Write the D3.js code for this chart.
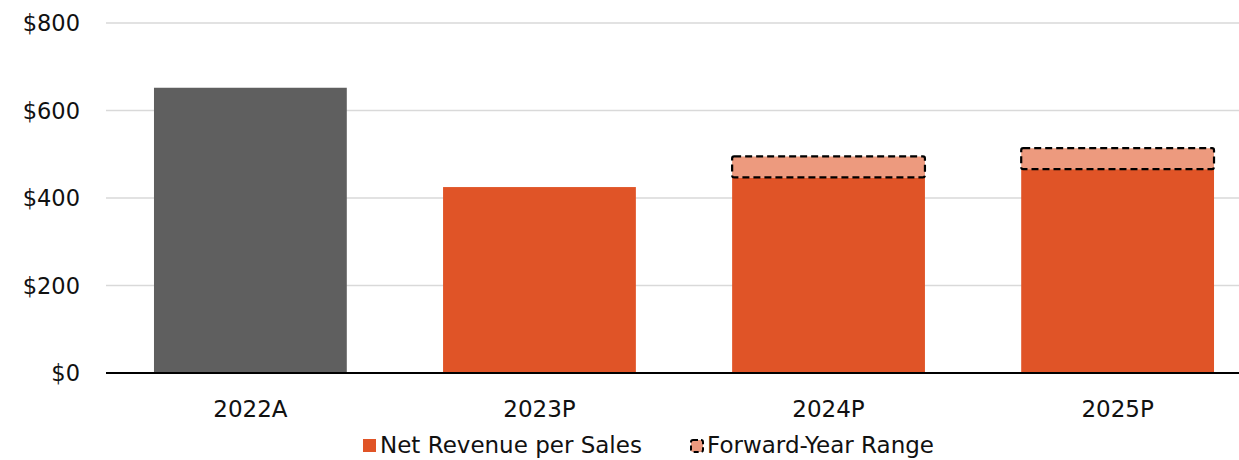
<!DOCTYPE html>
<meta charset="utf-8">
<script src="https://d3js.org/d3.v7.min.js"></script>
<style>
  body { margin: 0; background: #fff; }
  text { font-family: "DejaVu Sans", sans-serif; fill: #111; }
</style>
<div id="my_dataviz"></div>
<script>

// data
var years = ["2022A", "2023P", "2024P", "2025P"]
var netRevenue = [652, 425, 447, 466]
var rangeTop = [null, null, 495, 514]
var yTicks = [0, 200, 400, 600, 800]
var seriesNames = ["Net Revenue per Sales", "Forward-Year Range"]

var W = 1239, H = 460
var margin = {top: 23, left: 106}
var plotBottom = 373

var svg = d3.select("#my_dataviz")
  .append("svg")
  .attr("width", W)
  .attr("height", H)

// x band, the last step runs past the right edge like in the picture
var x = d3.scaleBand()
  .domain(years)
  .range([margin.left, 1262])
  .paddingInner(0.333)
  .paddingOuter(0.166)

var y = d3.scaleLinear()
  .domain([0, 800])
  .range([plotBottom, margin.top])

// gridlines
svg.append("g")
  .selectAll("line")
  .data(yTicks.filter(function(d) { return d > 0 }))
  .enter()
  .append("line")
    .attr("x1", margin.left)
    .attr("x2", W)
    .attr("y1", function(d) { return y(d) })
    .attr("y2", function(d) { return y(d) })
    .style("stroke", "#d9d9d9")
    .style("stroke-width", 1.5)

// y labels
svg.append("g")
  .selectAll("text")
  .data(yTicks)
  .enter()
  .append("text")
    .attr("x", 80)
    .attr("y", function(d) { return y(d) })
    .attr("dy", "0.36em")
    .attr("text-anchor", "end")
    .style("font-size", "22.5px")
    .text(function(d) { return "$" + d })

// bars
svg.append("g")
  .selectAll("rect")
  .data(years)
  .enter()
  .append("rect")
    .attr("x", function(d) { return x(d) })
    .attr("y", function(d, i) { return y(netRevenue[i]) })
    .attr("width", x.bandwidth())
    .attr("height", function(d, i) { return y(0) - y(netRevenue[i]) })
    .style("fill", function(d, i) { return i == 0 ? "#5f5f5f" : "#e05427" })

// forward-year range boxes
svg.append("g")
  .selectAll("rect")
  .data(years.filter(function(d, i) { return rangeTop[i] != null }))
  .enter()
  .append("rect")
    .attr("x", function(d) { return x(d) })
    .attr("y", function(d) { var i = years.indexOf(d); return y(rangeTop[i]) })
    .attr("width", x.bandwidth())
    .attr("height", function(d) { var i = years.indexOf(d); return y(netRevenue[i]) - y(rangeTop[i]) })
    .attr("rx", 2)
    .style("fill", "#ed9a7e")
    .style("stroke", "#000")
    .style("stroke-width", 2.2)
    .style("stroke-dasharray", "7,4")

// x axis line
svg.append("line")
  .attr("x1", margin.left)
  .attr("x2", W)
  .attr("y1", y(0))
  .attr("y2", y(0))
  .style("stroke", "#000")
  .style("stroke-width", 2)

// x labels
svg.append("g")
  .selectAll("text")
  .data(years)
  .enter()
  .append("text")
    .attr("x", function(d) { return x(d) + x.bandwidth() / 2 })
    .attr("y", 417)
    .attr("text-anchor", "middle")
    .style("font-size", "23px")
    .text(function(d) { return d })

// legend
var legend = svg.append("g")
legend.append("rect")
  .attr("x", 363).attr("y", 439)
  .attr("width", 13).attr("height", 13)
  .style("fill", "#e05427")
legend.append("text")
  .attr("x", 380).attr("y", 453)
  .style("font-size", "23px")
  .text(seriesNames[0])
legend.append("rect")
  .attr("x", 691).attr("y", 440)
  .attr("width", 12).attr("height", 12)
  .attr("rx", 2)
  .style("fill", "#ed9a7e")
  .style("stroke", "#000")
  .style("stroke-width", 2)
  .style("stroke-dasharray", "5,3")
legend.append("text")
  .attr("x", 707).attr("y", 453)
  .style("font-size", "23px")
  .text(seriesNames[1])

</script>
